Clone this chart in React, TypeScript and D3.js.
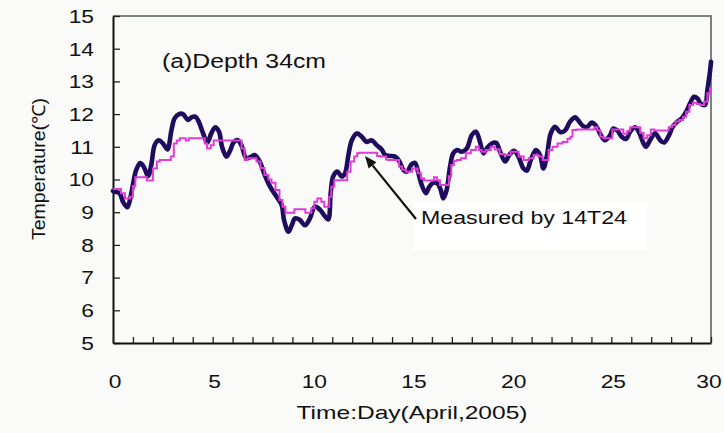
import React, { useEffect, useRef } from 'react';
import * as d3 from 'd3';

// simulated soil temperature (thick dark line)
const simDays = [0, 0.08, 0.33, 0.5, 0.72, 0.89, 1.0, 1.17, 1.37, 1.56, 1.76, 1.92, 2.09, 2.29, 2.51, 2.73, 2.93, 3.09, 3.31, 3.51, 3.76, 3.93, 4.13, 4.3, 4.52, 4.73, 4.93, 5.13, 5.32, 5.47, 5.69, 5.85, 6.07, 6.27, 6.44, 6.69, 6.94, 7.11, 7.36, 7.61, 7.88, 8.21, 8.46, 8.58, 8.8, 8.97, 9.13, 9.38, 9.63, 9.88, 10.13, 10.39, 10.64, 10.8, 10.92, 11.05, 11.26, 11.47, 11.64, 11.81, 11.98, 12.23, 12.48, 12.73, 12.98, 13.23, 13.48, 13.65, 13.9, 14.15, 14.37, 14.57, 14.74, 14.99, 15.15, 15.32, 15.49, 15.7, 15.87, 16.07, 16.27, 16.44, 16.57, 16.74, 16.91, 17.07, 17.27, 17.49, 17.75, 18.0, 18.21, 18.41, 18.58, 18.75, 19.0, 19.22, 19.42, 19.67, 19.88, 20.12, 20.34, 20.59, 20.76, 20.96, 21.22, 21.42, 21.59, 21.76, 21.96, 22.18, 22.43, 22.68, 22.93, 23.18, 23.35, 23.57, 23.77, 24.02, 24.23, 24.47, 24.68, 24.94, 25.1, 25.3, 25.52, 25.74, 25.94, 26.19, 26.41, 26.58, 26.74, 26.94, 27.2, 27.45, 27.65, 27.86, 28.08, 28.31, 28.53, 28.75, 28.95, 29.15, 29.32, 29.49, 29.7, 29.82, 29.95, 30.0];
const simTemps = [9.65, 9.63, 9.58, 9.32, 9.15, 9.49, 9.84, 10.3, 10.5, 10.37, 10.1, 10.44, 11.05, 11.2, 11.1, 10.92, 11.5, 11.87, 12.0, 12.0, 11.82, 11.9, 11.92, 11.77, 11.41, 11.13, 11.41, 11.6, 11.46, 11.0, 10.7, 10.85, 11.15, 11.2, 11.05, 10.65, 10.7, 10.75, 10.55, 10.14, 9.78, 9.47, 9.22, 8.76, 8.4, 8.6, 8.81, 8.76, 8.6, 8.81, 9.17, 9.07, 8.87, 8.78, 9.58, 10.1, 10.24, 10.09, 10.19, 10.75, 11.2, 11.41, 11.31, 11.15, 11.2, 11.05, 10.92, 10.75, 10.72, 10.7, 10.55, 10.29, 10.24, 10.47, 10.51, 10.19, 9.83, 9.58, 9.78, 9.9, 9.88, 9.68, 9.42, 9.68, 10.4, 10.8, 10.9, 10.85, 10.95, 11.36, 11.46, 11.15, 10.8, 10.95, 11.1, 11.12, 10.85, 10.55, 10.75, 10.88, 10.7, 10.34, 10.27, 10.6, 10.9, 10.75, 10.34, 10.7, 11.41, 11.61, 11.45, 11.5, 11.77, 11.9, 11.8, 11.64, 11.6, 11.74, 11.64, 11.36, 11.2, 11.36, 11.56, 11.5, 11.31, 11.24, 11.46, 11.6, 11.42, 11.15, 11.0, 11.2, 11.41, 11.2, 11.13, 11.31, 11.61, 11.77, 11.87, 12.07, 12.33, 12.53, 12.48, 12.31, 12.28, 12.74, 13.3, 13.6];

// measured by 14T24 (thin magenta step line)
const measDays = [0, 0.4, 0.6, 0.85, 1.0, 1.12, 1.7, 2.0, 2.2, 2.35, 2.9, 3.05, 3.2, 3.35, 3.65, 3.8, 4.6, 4.72, 4.9, 5.05, 6.45, 6.6, 6.75, 7.2, 7.4, 7.6, 7.8, 7.95, 8.15, 8.35, 8.5, 8.65, 9.1, 9.65, 9.95, 10.1, 10.25, 10.45, 10.6, 10.85, 10.95, 11.1, 11.75, 11.92, 12.1, 12.25, 12.35, 13.25, 13.4, 13.7, 13.8, 14.35, 14.5, 14.7, 15.0, 15.28, 15.45, 15.6, 16.1, 16.25, 16.4, 16.85, 16.97, 17.1, 17.25, 17.45, 17.7, 17.95, 18.2, 18.35, 18.5, 18.7, 18.95, 19.15, 19.4, 19.65, 19.95, 20.35, 20.6, 20.85, 21.1, 21.35, 21.55, 21.85, 22.05, 22.3, 22.55, 22.8, 22.95, 23.05, 23.25, 24.15, 24.3, 24.45, 24.6, 25.05, 25.6, 25.8, 25.95, 26.45, 26.62, 26.8, 26.98, 27.15, 27.88, 28.05, 28.22, 28.4, 28.6, 28.75, 28.92, 29.1, 29.3, 29.45, 29.65, 29.82, 29.95, 30.0];
const measTemps = [9.71, 9.58, 9.42, 9.47, 9.8, 10.07, 9.97, 10.34, 10.55, 10.6, 10.7, 11.1, 11.19, 11.26, 11.19, 11.26, 11.1, 10.95, 11.05, 11.19, 10.95, 10.6, 10.65, 10.55, 10.35, 10.14, 10.0, 9.9, 9.68, 9.37, 9.17, 8.98, 9.09, 8.98, 9.12, 9.32, 9.42, 9.32, 9.17, 9.47, 9.78, 9.98, 10.24, 10.55, 10.7, 10.8, 10.82, 10.72, 10.7, 10.61, 10.6, 10.4, 10.3, 10.24, 10.34, 10.19, 10.04, 9.97, 10.07, 9.98, 9.83, 10.1, 10.44, 10.57, 10.6, 10.65, 10.8, 10.9, 11.0, 10.9, 10.85, 10.9, 11.0, 10.92, 10.78, 10.75, 10.85, 10.7, 10.6, 10.65, 10.75, 10.7, 10.6, 10.9, 11.0, 11.1, 11.15, 11.25, 11.31, 11.51, 11.53, 11.6, 11.5, 11.31, 11.26, 11.53, 11.4, 11.48, 11.6, 11.43, 11.26, 11.35, 11.53, 11.5, 11.6, 11.67, 11.77, 11.82, 11.92, 12.07, 12.28, 12.35, 12.31, 12.28, 12.38, 12.64, 12.79, 12.79];

const yTicks = [5, 6, 7, 8, 9, 10, 11, 12, 13, 14, 15];
const xTicks = d3.range(0, 31);
const xLabels = [0, 5, 10, 15, 20, 25, 30];

const W = 724;
const H = 433;
const plot = { left: 113, top: 16, right: 711, bottom: 343 };
const FONT = 'Arial, "Liberation Sans", sans-serif';
const STRETCH = 1.2;

export default function App() {
  const svgRef = useRef<SVGSVGElement>(null);

  useEffect(() => {
    const svg = d3.select(svgRef.current);
    svg.selectAll('*').remove();

    const x = d3.scaleLinear().domain([0, 30]).range([plot.left, plot.right]);
    const y = d3.scaleLinear().domain([5, 15]).range([plot.bottom, plot.top]);

    svg.append('rect').attr('width', W).attr('height', H).attr('fill', '#fafaf8');

    // top and right frame (grey)
    svg.append('path')
      .attr('d', `M${plot.left},${plot.top}H${plot.right}V${plot.bottom}`)
      .attr('fill', 'none').attr('stroke', '#78837f').attr('stroke-width', 2);

    // y axis
    const yAxis = svg.append('g')
      .attr('transform', `translate(${plot.left},0)`)
      .call(d3.axisLeft(y).tickValues(yTicks).tickSizeInner(-7).tickSizeOuter(0).tickFormat(() => ''));
    yAxis.select('.domain').attr('stroke', '#111').attr('stroke-width', 2);
    yAxis.selectAll('.tick line').attr('stroke', '#222').attr('stroke-width', 1.3);

    // x axis
    const xAxis = svg.append('g')
      .attr('transform', `translate(0,${plot.bottom})`)
      .call(d3.axisBottom(x).tickValues(xTicks).tickSizeInner(-6).tickSizeOuter(0).tickFormat(() => ''));
    xAxis.select('.domain').attr('stroke', '#111').attr('stroke-width', 2);
    xAxis.selectAll('.tick line').attr('stroke', '#222').attr('stroke-width', 1.3);

    const stretched = (g, px, py, txt, size, anchor) =>
      g.append('text')
        .attr('transform', `translate(${px},${py}) scale(${STRETCH},1)`)
        .attr('text-anchor', anchor)
        .attr('font-family', FONT)
        .attr('font-size', size)
        .attr('fill', '#111')
        .text(txt);

    yTicks.forEach(t => stretched(svg, 94, y(t) + 6.8, String(t), 19, 'end'));
    xLabels.forEach(t => stretched(svg, x(t) + (t === 30 ? -2 : 2), 388, String(t), 19, 'middle'));

    svg.append('text')
      .attr('x', 412).attr('y', 419)
      .attr('text-anchor', 'middle')
      .attr('font-family', FONT).attr('font-size', 19).attr('fill', '#111')
      .attr('textLength', 231).attr('lengthAdjust', 'spacingAndGlyphs')
      .text('Time:Day(April,2005)');

    svg.append('text')
      .attr('transform', 'translate(45,169) rotate(-90)')
      .attr('text-anchor', 'middle')
      .attr('font-family', FONT).attr('font-size', 18).attr('fill', '#111')
      .attr('textLength', 142).attr('lengthAdjust', 'spacingAndGlyphs')
      .text('Temperature(℃)');

    svg.append('text')
      .attr('x', 162).attr('y', 68)
      .attr('font-family', FONT).attr('font-size', 20).attr('fill', '#111')
      .attr('textLength', 164).attr('lengthAdjust', 'spacingAndGlyphs')
      .text('(a)Depth 34cm');

    const simData = simDays.map((d, i) => [d, simTemps[i]] as [number, number]);
    const measData = measDays.map((d, i) => [d, measTemps[i]] as [number, number]);

    const simLine = d3.line<[number, number]>()
      .x(d => x(d[0])).y(d => y(d[1]))
      .curve(d3.curveCatmullRom.alpha(0.5));
    const measLine = d3.line<[number, number]>()
      .x(d => x(d[0])).y(d => y(d[1]))
      .curve(d3.curveStepAfter);

    svg.append('path')
      .attr('d', simLine(simData))
      .attr('fill', 'none').attr('stroke', '#200c5e').attr('stroke-width', 4.6)
      .attr('stroke-linejoin', 'round').attr('stroke-linecap', 'round');

    svg.append('path')
      .attr('d', measLine(measData))
      .attr('fill', 'none').attr('stroke', '#e03cd6').attr('stroke-width', 2);

    // annotation box + arrow
    svg.append('rect')
      .attr('x', 414).attr('y', 202).attr('width', 233).attr('height', 48)
      .attr('fill', '#ffffff');
    svg.append('text')
      .attr('x', 421).attr('y', 224)
      .attr('font-family', FONT).attr('font-size', 18).attr('fill', '#111')
      .attr('textLength', 206).attr('lengthAdjust', 'spacingAndGlyphs')
      .text('Measured by 14T24');

    const tail: [number, number] = [416, 219];
    const head: [number, number] = [365, 156];
    const ang = Math.atan2(head[1] - tail[1], head[0] - tail[0]);
    const len = 12;
    const half = 5;
    const bx = head[0] - len * Math.cos(ang);
    const by = head[1] - len * Math.sin(ang);
    svg.append('line')
      .attr('x1', tail[0]).attr('y1', tail[1]).attr('x2', bx).attr('y2', by)
      .attr('stroke', '#111').attr('stroke-width', 2.2);
    svg.append('polygon')
      .attr('points', [
        head,
        [bx + half * Math.sin(ang), by - half * Math.cos(ang)],
        [bx - half * Math.sin(ang), by + half * Math.cos(ang)],
      ].map(p => p.join(',')).join(' '))
      .attr('fill', '#111');
  }, []);

  return (
    <div style={{ position: 'fixed', left: 0, top: 0, width: W, height: H }}>
      <svg ref={svgRef} width={W} height={H} style={{ display: 'block' }} />
    </div>
  );
}
